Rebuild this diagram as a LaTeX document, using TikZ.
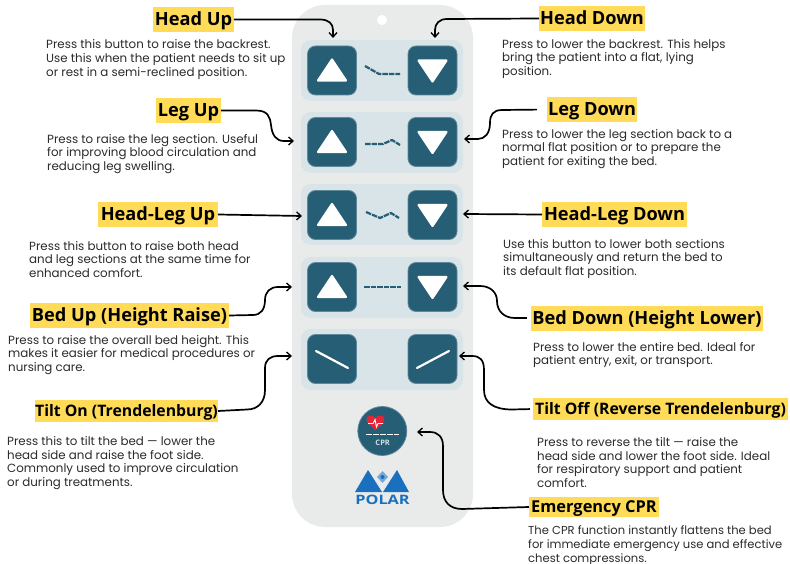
\documentclass[tikz,border=0pt]{standalone}
\usepackage{fontspec}
\setmainfont{Poppins}
\newfontfamily\labelfont{Open Sans}
\usetikzlibrary{arrows.meta,shapes.geometric}
\definecolor{panelc}{HTML}{E9EBEB}
\definecolor{bandc}{HTML}{D8E4E7}
\definecolor{btnc}{HTML}{265E75}
\definecolor{btnedge}{HTML}{5F8899}
\definecolor{labc}{HTML}{FFDB58}
\definecolor{txtc}{HTML}{2B2B2B}
\definecolor{logoc}{HTML}{1A6FBE}
\definecolor{heartc}{HTML}{E22638}
\tikzset{
  x=1pt,y=-1pt,
  band/.style={fill=bandc,draw=none,rounded corners=10pt},
  btn/.style={draw=btnedge,line width=0.8pt,fill=btnc,rounded corners=8pt,minimum width=49pt,minimum height=49pt,inner sep=0pt},
  tri/.style={fill=white,draw=white,line width=2.2pt,line join=round},
  prof/.style={draw=btnc,line width=2.2pt,dash pattern=on 5.5pt off 1pt},
  tilt/.style={draw=white,line width=2.2pt,line cap=round},
  lab/.style={fill=labc,inner sep=0pt,minimum height=25pt,text height=15pt,text depth=3pt,font=\labelfont\fontsize{18.2}{20}\selectfont\bfseries,text=black},
  labs/.style={fill=labc,inner sep=0pt,minimum height=22pt,text height=13pt,text depth=3pt,font=\labelfont\fontsize{15.8}{20}\selectfont\bfseries,text=black},
  desc/.style={anchor=west,align=left,inner sep=0pt,yshift=-1pt,text=txtc,font=\fontsize{11.85}{13.6}\selectfont},
  conn/.style={draw=black,line width=1.7pt,-{Straight Barb[length=4.5pt,width=8pt,line width=1.3pt]}},
}
\begin{document}
\begin{tikzpicture}
\useasboundingbox (0,0) rectangle (790,564);
\fill[white] (0,0) rectangle (790,564);
% panel
\fill[panelc,rounded corners=33pt] (292,5) rectangle (473,527);
\fill[white] (382,20) circle (5);
% bands
\foreach \a/\b in {40/101,112/173,184/245,257/318,329/390}
  \fill[band] (301,\a) rectangle (463,\b);
% buttons
\node[btn] (b1u) at (332,70.5) {};
\node[btn] (b1d) at (432.5,70.5) {};
\node[btn] (b2u) at (332,142) {};
\node[btn] (b2d) at (432.5,142) {};
\node[btn] (b3u) at (332,215) {};
\node[btn] (b3d) at (432.5,215) {};
\node[btn] (b4u) at (332,287) {};
\node[btn] (b4d) at (432.5,287) {};
\node[btn] (b5u) at (332,359) {};
\node[btn] (b5d) at (432.5,359) {};
% triangles
\foreach \n in {b1u,b2u,b3u,b4u}{
  \fill[tri] ([shift={(-14,10)}]\n.center) -- ([shift={(0,-11)}]\n.center) -- ([shift={(14,10)}]\n.center) -- cycle;
}
\foreach \n in {b1d,b2d,b3d,b4d}{
  \fill[tri] ([shift={(-14,-10)}]\n.center) -- ([shift={(14,-10)}]\n.center) -- ([shift={(0,11)}]\n.center) -- cycle;
}
% profiles
\draw[prof] (365,66) -- (379,74) -- (400,74);
\draw[prof] (365,144) -- (383,144) -- (392,140) -- (400,145);
\draw[prof] (366,212) -- (380,218) -- (391,213) -- (399,218);
\draw[prof] (364,287) -- (401,287);
\draw[tilt] (316,351) -- (348,368);
\draw[tilt] (417,368) -- (449,351);
% CPR
\node[circle,fill=btnc,draw=btnedge,line width=0.8pt,minimum size=49pt,inner sep=0pt] (cpr) at (382.3,431) {};
\fill[heartc] (375.5,430.5) .. controls (371,426) and (366.5,423) .. (366.5,419.5) .. controls (366.5,414.5) and (373,414.5) .. (375.5,418) .. controls (378,414.5) and (384.5,414.5) .. (384.5,419.5) .. controls (384.5,423) and (380,426) .. (375.5,430.5) -- cycle;
\draw[white,line width=0.9pt] (368,423.5) -- (373,423.5) -- (375,419.5) -- (376.5,427) -- (378,423.5) -- (383,423.5);
\draw[white,line width=1.7pt,dash pattern=on 6pt off 1pt] (366,434.5) -- (399,434.5);
\node[inner sep=0pt,font=\labelfont\bfseries\fontsize{7.5}{8}\selectfont,text=white!80!btnc] (cprt) at (382.7,442.7) {CPR};
% logo
\fill[logoc] (368,470) -- (382,492) -- (355,492) -- cycle;
\fill[logoc] (397,470) -- (409,492) -- (383,492) -- cycle;
\fill[logoc!60!white] (382.5,471) -- (388,477) -- (382.5,483) -- (377,477) -- cycle;
\fill[logoc] (382.5,477) circle (2);
\node[inner sep=0pt,font=\labelfont\bfseries\fontsize{13}{14}\selectfont,text=logoc,xscale=1.25,transform shape] (logo) at (382.5,499.5) {POLAR};
% labels
\node[lab,minimum width=81pt] (hu) at (193.5,19.5) {Head Up};
\node[lab,minimum width=65pt] (lu) at (188.5,110.5) {Leg Up};
\node[lab,minimum width=120pt] (hlu) at (158,214.5) {Head-Leg Up};
\node[lab,minimum width=199pt] (bu) at (129.5,315.5) {Bed Up (Height Raise)};
\node[labs,minimum width=183pt] (to) at (126.5,411) {Tilt On (Trendelenburg)};
\node[lab,minimum width=106pt] (hd) at (592,18.5) {Head Down};
\node[lab,minimum width=90pt] (ld) at (592,109.5) {Leg Down};
\node[lab,minimum width=145pt] (hld) at (614.5,214.5) {Head-Leg Down};
\node[lab,minimum width=232pt] (bd) at (647,318) {Bed Down (Height Lower)};
\node[labs,minimum width=255pt] (tf) at (660.5,409) {Tilt Off (Reverse Trendelenburg)};
\node[labs,minimum width=130pt,minimum height=20pt,font=\labelfont\fontsize{16.4}{20}\selectfont\bfseries] (ec) at (594,507) {Emergency CPR};
% descriptions
\node[desc] (d1) at (46,58.5) {Press this button to raise the backrest.\\Use this when the patient needs to sit up\\or rest in a semi-reclined position.};
\node[desc] (d2) at (47,153) {Press to raise the leg section. Useful\\for improving blood circulation and\\reducing leg swelling.};
\node[desc] (d3) at (29,258.5) {Press this button to raise both head\\and leg sections at the same time for\\enhanced comfort.};
\node[desc] (d4) at (8,354) {Press to raise the overall bed height. This\\makes it easier for medical procedures or\\nursing care.};
\node[desc] (d5) at (7,462) {Press this to tilt the bed — lower the\\head side and raise the foot side.\\Commonly used to improve circulation\\or during treatments.};
\node[desc] (d6) at (502,58) {Press to lower the backrest. This helps\\bring the patient into a flat, lying\\position.};
\node[desc] (d7) at (502,148) {Press to lower the leg section back to a\\normal flat position or to prepare the\\patient for exiting the bed.};
\node[desc] (d8) at (503,258) {Use this button to lower both sections\\simultaneously and return the bed to\\its default flat position.};
\node[desc] (d9) at (533,354) {Press to lower the entire bed. Ideal for\\patient entry, exit, or transport.};
\node[desc] (d10) at (537,461.5) {Press to reverse the tilt — raise the\\head side and lower the foot side. Ideal\\for respiratory support and patient\\comfort.};
\node[desc,font=\fontsize{11.55}{13.6}\selectfont] (d11) at (528,544.5) {The CPR function instantly flattens the bed\\for immediate emergency use and effective\\chest compressions.};
% end points
\coordinate (e1) at (333,38);
\coordinate (e2) at (435,38);
\coordinate (e3) at (294,141);
\coordinate (e4) at (464,139);
\coordinate (e5) at (302,216);
\coordinate (e6) at (463,214);
\coordinate (e7) at (292,287);
\coordinate (e8) at (463,286);
\coordinate (e9) at (292,356);
\coordinate (e10) at (459,356);
\coordinate (e11) at (417,432);
% connectors
\draw[conn] (hu.east) -- (320,19.5) .. controls (329,19.5) and (333,24) .. (333,30) -- (e1);
\draw[conn] (hd.west) -- (447,19) .. controls (439,19) and (435,24) .. (435,30) -- (e2);
\draw[conn] (lu.east) -- (256,110.5) .. controls (268,110.5) and (270,117) .. (271,125) .. controls (272,135) and (276,141) .. (284,141) -- (e3);
\draw[conn,shorten <=10pt] (ld.west) -- (502,110) .. controls (493,110) and (490,115) .. (490,123) .. controls (490,133) and (485,139) .. (478,139) -- (e4);
\draw[conn] (hlu.east) -- (e5);
\draw[conn] (hld.west) -- (e6);
\draw[conn] (bu.east) -- (253,315) .. controls (261,315) and (265,309) .. (265,300) .. controls (265,292) and (270,287) .. (278,287) -- (e7);
\draw[conn,shorten <=4pt] (bd.west) -- (515,318) .. controls (504,318) and (497,311) .. (497,301) .. controls (497,292) and (490,286) .. (480,286) -- (e8);
\draw[conn] (to.east) -- (247,409.5) .. controls (258,409.5) and (265,402) .. (265,390) -- (265,368) .. controls (265,360) and (270,356) .. (278,356) -- (e9);
\draw[conn,shorten <=3pt] (tf.west) -- (512,409.5) .. controls (494,409.5) and (484,403) .. (484,390) -- (484,370) .. controls (484,360) and (480,356) .. (472,356) -- (e10);
\draw[conn] (ec.west) -- (462,509) .. controls (450,509) and (443,502) .. (443,490) -- (443,446) .. controls (443,437) and (438,432) .. (430,432) -- (e11);
\end{tikzpicture}
\end{document}
